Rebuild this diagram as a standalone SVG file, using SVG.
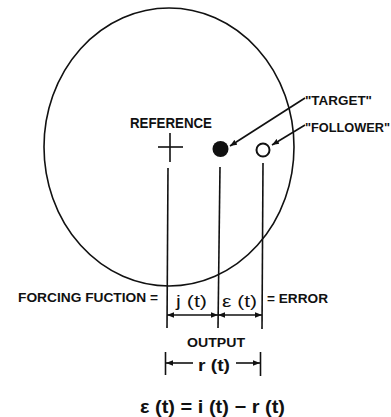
<svg xmlns="http://www.w3.org/2000/svg" width="391" height="417" viewBox="0 0 391 417">
<style>
.ln{stroke:#111;stroke-width:1.6;fill:none}
.t{font-family:"Liberation Sans",Arial,sans-serif;font-weight:bold;fill:#111}
.n{font-weight:normal}
</style>
<defs>
<marker id="ah" viewBox="0 0 10 10" refX="10" refY="5" markerWidth="7" markerHeight="7" orient="auto-start-reverse" markerUnits="userSpaceOnUse">
<path d="M0,1 L10,5 L0,9 Z" fill="#111"/>
</marker>
</defs>
<rect width="391" height="417" fill="#fff"/>
<g id="scope"><ellipse cx="169" cy="147" rx="125" ry="139" class="ln"/></g>
<g id="reference">
<line x1="158" y1="147" x2="183" y2="147" class="ln"/>
<line x1="170" y1="133" x2="170" y2="162" class="ln"/>
<text x="130" y="128" class="t" font-size="14" textLength="82" lengthAdjust="spacingAndGlyphs">REFERENCE</text>
</g>
<g id="target">
<circle cx="220.5" cy="149" r="8" fill="#111"/>
<text x="305" y="105" class="t" font-size="13" textLength="67" lengthAdjust="spacingAndGlyphs">"TARGET"</text>
</g>
<g id="follower">
<circle cx="263" cy="150" r="6.5" fill="#fff" stroke="#111" stroke-width="2"/>
<text x="305" y="132" class="t" font-size="13" textLength="85" lengthAdjust="spacingAndGlyphs">"FOLLOWER"</text>
</g>
<g id="connectors">
<line x1="305" y1="98" x2="230" y2="146" class="ln" marker-end="url(#ah)"/>
<line x1="305" y1="125" x2="272" y2="145" class="ln" marker-end="url(#ah)"/>
<line x1="168" y1="168" x2="167" y2="328" class="ln"/>
<line x1="220" y1="167" x2="218" y2="328" class="ln"/>
<line x1="263" y1="163" x2="262" y2="329" class="ln"/>
<line x1="167" y1="315" x2="218" y2="315" class="ln" marker-start="url(#ah)" marker-end="url(#ah)"/>
<line x1="218" y1="315" x2="262" y2="315" class="ln" marker-start="url(#ah)" marker-end="url(#ah)"/>
<line x1="165.5" y1="352" x2="165.5" y2="375" class="ln"/>
<line x1="260.5" y1="352" x2="260.5" y2="376" class="ln"/>
<line x1="193" y1="363" x2="166" y2="363" class="ln" marker-end="url(#ah)"/>
<line x1="236" y1="363" x2="260" y2="363" class="ln" marker-end="url(#ah)"/>
</g>
<g id="labels">
<text x="18" y="302" class="t" font-size="13.5" textLength="140" lengthAdjust="spacingAndGlyphs">FORCING FUCTION =</text>
<text x="176" y="307" class="t n" font-size="16" textLength="31" lengthAdjust="spacingAndGlyphs">j (t)</text>
<text x="222" y="307" class="t n" font-size="16" textLength="35" lengthAdjust="spacingAndGlyphs">ε (t)</text>
<text x="267" y="303" class="t" font-size="13.5" textLength="61" lengthAdjust="spacingAndGlyphs">= ERROR</text>
<text x="187" y="347" class="t" font-size="13.5" textLength="58" lengthAdjust="spacingAndGlyphs">OUTPUT</text>
<text x="198" y="371" class="t" font-size="17" textLength="32" lengthAdjust="spacingAndGlyphs">r (t)</text>
<text x="140" y="413" class="t" font-size="18" textLength="145" lengthAdjust="spacingAndGlyphs">ε (t) = i (t) − r (t)</text>
</g>
</svg>
